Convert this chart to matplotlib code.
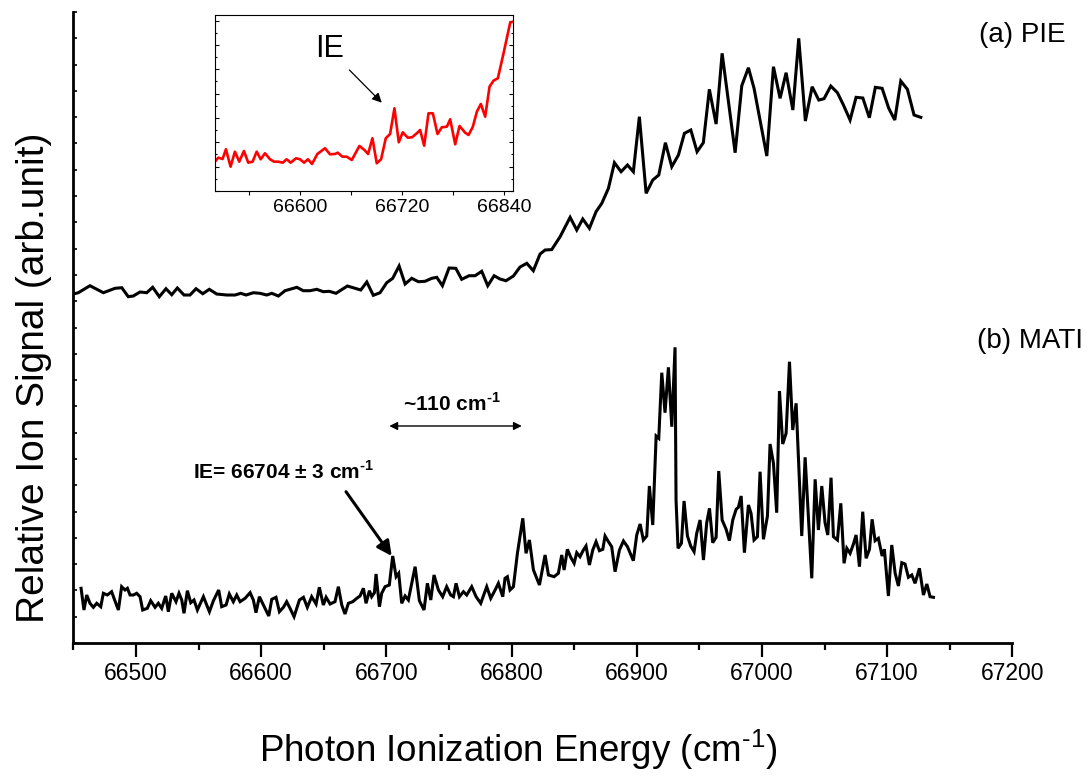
import numpy as np
import matplotlib
matplotlib.use("Agg")
import matplotlib.pyplot as plt
from matplotlib.ticker import MultipleLocator

plt.rcParams['font.family'] = ['Liberation Sans', 'DejaVu Sans']
plt.rcParams['mathtext.fontset'] = 'custom'
plt.rcParams['mathtext.rm'] = 'Liberation Sans'
plt.rcParams['mathtext.bf'] = 'Liberation Sans:bold'

# ---------------- data (arbitrary signal units) ----------------
pie_energy = [
    66450.0, 66454.0, 66463.3, 66474.0, 66483.3, 66488.7, 66493.9, 66497.9, 66503.3, 66508.6,
    66513.4, 66518.7, 66524.0, 66528.6, 66533.1, 66538.4, 66543.2, 66548.0, 66553.4, 66558.6,
    66564.5, 66572.5, 66579.2, 66583.7, 66588.0, 66593.8, 66599.1, 66604.5, 66608.5, 66613.8,
    66619.1, 66628.5, 66633.7, 66639.1, 66644.4, 66649.7, 66654.5, 66659.8, 66668.9, 66679.6,
    66684.4, 66689.6, 66695.0, 66700.3, 66705.1, 66710.2, 66715.0, 66720.3, 66725.6, 66730.9,
    66736.3, 66740.3, 66744.8, 66750.1, 66755.5, 66760.2, 66766.1, 66770.9, 66776.2, 66781.0,
    66786.1, 66790.8, 66795.6, 66801.5, 66806.8, 66812.2, 66817.4, 66822.8, 66826.8, 66832.1,
    66838.8, 66846.8, 66852.1, 66856.9, 66862.2, 66867.5, 66872.1, 66877.4, 66882.2, 66887.5,
    66892.6, 66897.3, 66902.1, 66907.5, 66912.8, 66917.6, 66922.9, 66928.0, 66933.3, 66938.1,
    66943.2, 66948.2, 66953.2, 66958.0, 66963.4, 66968.2, 66978.6, 66983.9, 66989.2, 66993.7,
    67003.9, 67009.2, 67014.5, 67019.3, 67024.7, 67029.4, 67034.7, 67040.1, 67045.4, 67049.6,
    67055.0, 67060.3, 67065.1, 67070.4, 67075.2, 67080.6, 67085.8, 67090.6, 67096.0, 67101.3,
    67106.1, 67110.9, 67116.2, 67121.5, 67126.9]
pie_signal = [
    349, 350.3, 357.3, 350.3, 354.7, 355.3, 346.3, 347, 351, 350.3,
    355.7, 346.3, 354.3, 348.3, 355, 348, 348, 354.3, 349.3, 353.7,
    349, 348, 348, 349.7, 348, 350.3, 349.7, 348, 349.7, 347,
    352.3, 355.7, 352.3, 352.3, 353.7, 351.3, 351.7, 349.7, 357, 353,
    361, 347.7, 350.3, 360.3, 364.7, 377, 359, 364.7, 361.3, 361.7,
    364.7, 365.7, 357.3, 375, 374.7, 363.7, 367.3, 367.3, 371.7, 357.3,
    367.3, 364, 362.3, 367, 376, 379.7, 372.3, 389, 393, 393.4,
    406.3, 425.7, 413, 424, 414.7, 431.3, 439.7, 454.7, 480.3, 471.3,
    478, 471.3, 526.3, 449.7, 463, 468, 500.3, 476.3, 488, 509.7,
    513, 491.3, 500.3, 553.7, 519, 589.7, 490.3, 557.3, 575.3, 554.7,
    487, 576.3, 544.7, 570.3, 533, 604.7, 522, 556.3, 543, 544.3,
    557, 550.3, 538, 523, 545.7, 545, 525.3, 555.7, 554.7, 534.7,
    523, 562, 553.7, 528, 525.7]

mati_energy = [
    66456.2, 66458.5, 66460.7, 66463.3, 66466.0, 66468.7, 66471.9, 66474.0, 66477.2, 66480.6,
    66482.8, 66486.0, 66488.6, 66491.3, 66493.2, 66495.3, 66498.0, 66500.6, 66503.3, 66505.4,
    66509.1, 66511.8, 66515.3, 66517.9, 66520.6, 66523.8, 66525.9, 66528.6, 66532.0, 66534.4,
    66536.6, 66538.4, 66541.1, 66543.8, 66546.4, 66549.1, 66553.9, 66558.7, 66561.9, 66566.1,
    66568.5, 66572.0, 66574.6, 66577.8, 66580.5, 66583.2, 66587.2, 66591.2, 66593.8, 66595.9,
    66598.6, 66601.8, 66606.1, 66608.5, 66611.9, 66614.6, 66617.8, 66620.4, 66623.1, 66626.3,
    66630.6, 66633.8, 66636.9, 66640.4, 66643.9, 66646.5, 66649.7, 66651.9, 66655.1, 66659.0,
    66661.7, 66664.4, 66667.0, 66669.7, 66673.2, 66676.4, 66679.0, 66681.7, 66683.8, 66686.5,
    66688.3, 66690.5, 66691.8, 66694.5, 66696.3, 66699.0, 66702.4, 66705.1, 66707.8, 66709.9,
    66712.3, 66715.0, 66717.6, 66723.0, 66726.4, 66730.1, 66732.8, 66735.5, 66738.1, 66741.6,
    66745.0, 66748.2, 66751.4, 66753.6, 66755.7, 66758.4, 66761.6, 66764.2, 66768.2, 66771.7,
    66775.4, 66780.2, 66783.4, 66786.9, 66789.5, 66793.0, 66794.8, 66796.7, 66798.8, 66801.5,
    66804.7, 66809.0, 66811.6, 66814.3, 66817.5, 66822.3, 66826.8, 66829.5, 66834.0, 66837.4,
    66840.1, 66842.0, 66844.6, 66847.3, 66850.0, 66852.1, 66854.7, 66857.4, 66859.5, 66862.2,
    66864.9, 66867.5, 66870.2, 66872.9, 66874.7, 66877.4, 66880.0, 66882.7, 66886.2, 66889.4,
    66892.6, 66897.3, 66900.0, 66902.7, 66905.3, 66908.0, 66910.1, 66912.8, 66915.5, 66917.6,
    66920.0, 66922.6, 66925.3, 66928.0, 66930.6, 66931.4, 66933.0, 66935.7, 66937.8, 66940.5,
    66943.1, 66945.8, 66947.9, 66950.6, 66953.3, 66955.9, 66958.1, 66960.7, 66963.4, 66965.5,
    66968.2, 66971.4, 66974.0, 66976.7, 66979.4, 66981.2, 66983.4, 66986.0, 66989.2, 66991.3,
    66993.7, 66996.4, 66998.5, 67001.2, 67004.4, 67006.5, 67009.2, 67011.8, 67014.0, 67016.6,
    67019.3, 67022.0, 67024.6, 67027.3, 67031.8, 67034.5, 67039.8, 67042.5, 67045.1, 67047.8,
    67050.4, 67052.6, 67055.2, 67057.1, 67060.3, 67063.0, 67065.6, 67067.8, 67070.4, 67073.1,
    67075.2, 67077.9, 67080.5, 67083.2, 67085.9, 67088.0, 67090.4, 67093.0, 67096.0, 67097.8,
    67101.0, 67103.7, 67106.4, 67109.0, 67111.7, 67114.3, 67117.0, 67119.7, 67122.3, 67125.8,
    67129.0, 67131.7, 67134.3, 67137.0]
mati_signal = [
    54.7, 33, 48, 39.7, 35.7, 39.7, 36.3, 49.7, 48, 51.3,
    43.7, 33, 56.3, 53, 54.7, 48, 48, 49.7, 46.3, 33,
    34.7, 42.3, 35.7, 39.7, 34.7, 47, 31.3, 49.7, 41.3, 49.7,
    43, 29.7, 52.3, 40.3, 43, 33, 46.3, 31.3, 42.3, 53,
    36.3, 38, 49, 41.3, 48, 41.3, 44.7, 50.3, 43, 30.3,
    46.3, 38, 27, 43.7, 45.7, 31.3, 35.7, 41.3, 34.7, 26.3,
    43, 45.7, 35.7, 46.3, 39, 55.7, 38, 45.7, 39, 41.3,
    56.3, 38, 29, 39.7, 41.3, 44.7, 47, 54.7, 39.7, 52.3,
    46.3, 50.3, 69, 36.3, 49.7, 56.3, 58, 87, 66.3, 69.7,
    39.7, 47, 43, 76.3, 42.3, 33, 59.7, 43, 68, 53,
    46.3, 56.3, 48, 46.3, 59.7, 46.3, 51.3, 48, 56.3, 46.3,
    39.7, 56.3, 44.7, 53, 59.7, 46.3, 64.7, 66.3, 53, 56.3,
    89.7, 124.7, 89.7, 103, 73, 58, 88, 68, 66.3, 69.7,
    88, 73, 93.7, 85.7, 79.7, 90.3, 86.3, 93, 97, 78,
    93, 101.3, 92.3, 93.7, 107, 101.3, 96.3, 71.3, 93, 102,
    96.3, 82.3, 108, 119, 103, 107, 157, 118, 207, 204.7,
    270.3, 230.3, 275.7, 216.3, 295.7, 143, 94.7, 99.7, 142, 107,
    97, 91.3, 109.7, 123, 83, 120.3, 134.7, 100.3, 105.7, 172,
    123, 113.7, 102.3, 123, 133.7, 135.7, 147, 90.3, 138, 129.7,
    103, 106.3, 171.3, 103.7, 127, 199, 179.7, 130.3, 252, 199,
    209.7, 281.3, 213, 239.7, 107, 185.7, 64.7, 163.7, 113, 157,
    120.3, 108, 165.3, 106.3, 103, 139.7, 79.7, 94.7, 89.7, 99,
    108, 76.3, 131.3, 84.7, 93.7, 123.7, 102.3, 104.7, 87, 93.7,
    47, 98, 69.7, 57, 80.3, 79, 65.7, 68, 59.7, 74.7,
    48, 59, 46.3, 45.7]

inset_energy = [
    66499.9, 66503.8, 66508.9, 66512.8, 66518.3, 66523.4, 66528.5, 66534.0, 66539.1, 66544.2,
    66549.0, 66553.7, 66558.8, 66564.7, 66569.4, 66574.5, 66579.6, 66584.3, 66589.0, 66595.3,
    66600.0, 66604.7, 66609.4, 66614.1, 66620.4, 66629.4, 66635.3, 66641.2, 66644.4, 66649.9,
    66655.0, 66660.9, 66669.9, 66675.8, 66680.1, 66685.2, 66690.3, 66695.4, 66700.9, 66706.0,
    66711.1, 66716.2, 66720.9, 66726.8, 66731.9, 66738.2, 66741.3, 66746.1, 66751.2, 66756.3,
    66761.8, 66766.9, 66772.8, 66776.7, 66782.6, 66787.7, 66794.3, 66798.3, 66803.4, 66808.1,
    66812.8, 66817.9, 66823.0, 66827.7, 66832.8, 66839.5, 66847.3, 66850.5]
inset_signal = [
    29.3, 33.3, 32, 41.7, 24.3, 39.3, 29.3, 40, 28.3, 29.3,
    39.3, 31.7, 37.7, 31.7, 29.3, 29.3, 28.3, 31.7, 28.3, 32.7,
    31.7, 28.3, 31.7, 27, 37, 42.7, 36.7, 37, 38.3, 34.3,
    34.3, 31, 45, 41, 37, 52.7, 27.7, 31.7, 52.7, 57,
    82.7, 48.7, 58.7, 53.3, 53.7, 58.3, 61, 45.3, 77.7, 77.7,
    57, 63.7, 64.3, 71.7, 46.7, 65, 58.3, 56, 64.3, 79.3,
    87, 74.3, 104.3, 110.3, 112.7, 137.7, 168.3, 169.3]

x_ticks = [66500, 66600, 66700, 66800, 66900, 67000, 67100, 67200]
inset_ticks = [66600, 66720, 66840]

SUP = r'$^{\mathdefault{‐1}}$'   # superscript "-1" drawn with a short hyphen

# ---------------- figure ----------------
fig = plt.figure(figsize=(10.91, 7.76), dpi=100)
ax = fig.add_axes([0.0672, 0.1714, 0.8607, 0.8131])

ax.plot(pie_energy, pie_signal, color='black', lw=2.2, solid_joinstyle='miter')
ax.plot(mati_energy, mati_signal, color='black', lw=2.2, solid_joinstyle='miter')

ax.set_xlim(66450, 67200)
ax.set_ylim(0, 631)
ax.spines['top'].set_visible(False)
ax.spines['right'].set_visible(False)
ax.spines['left'].set_linewidth(2.0)
ax.spines['bottom'].set_linewidth(2.0)
ax.set_xticks(x_ticks)
ax.set_xticklabels([str(t) for t in x_ticks])
ax.xaxis.set_minor_locator(MultipleLocator(50))
ax.tick_params(axis='x', which='major', direction='out', length=10, width=1.6,
               labelsize=16.5, pad=4)
ax.tick_params(axis='x', which='minor', direction='out', length=5, width=1.6)
ax.yaxis.set_major_locator(MultipleLocator(631 / 24))
ax.tick_params(axis='y', which='major', direction='in', length=3, width=1.2,
               labelleft=False)

fig.text(0.4748, 0.034, 'Photon Ionization Energy (cm' + SUP + ')', fontsize=26.5,
         ha='center', va='center')
fig.text(0.031, 0.5137, 'Relative Ion Signal (arb.unit)', fontsize=28,
         rotation=90, ha='center', va='center')

ax.text(67207.8, 608, '(a) PIE', fontsize=20, ha='center', va='center')
ax.text(67214.2, 302, '(b) MATI', fontsize=20, ha='center', va='center')

ax.text(66545.6, 164, 'IE= 66704 ± 3 cm' + SUP, fontsize=15,
        fontweight='bold', ha='left', va='baseline')
ax.annotate('', xy=(66704.3, 87), xytext=(66667.8, 151.3),
            arrowprops=dict(arrowstyle='-|>', lw=2.2, color='black',
                            mutation_scale=22, shrinkA=0, shrinkB=0))
ax.text(66713.3, 232.3, '~110 cm' + SUP, fontsize=15,
        fontweight='bold', ha='left', va='baseline')
ax.annotate('', xy=(66808.2, 217), xytext=(66702.4, 217),
            arrowprops=dict(arrowstyle='<|-|>', lw=1.0, color='black',
                            mutation_scale=12, shrinkA=0, shrinkB=0))

# ---------------- inset ----------------
ins = fig.add_axes([0.1971, 0.7539, 0.2734, 0.2268])
ins.plot(inset_energy, inset_signal, color='red', lw=1.9)
ins.set_xlim(66500, 66851)
ins.set_ylim(0, 176)
ins.set_xticks(inset_ticks)
ins.set_xticklabels([str(t) for t in inset_ticks])
ins.xaxis.set_minor_locator(MultipleLocator(60))
ins.yaxis.set_major_locator(MultipleLocator(24.33))
ins.yaxis.set_minor_locator(MultipleLocator(24.33 / 2))
for s in ins.spines.values():
    s.set_linewidth(0.8)
ins.tick_params(axis='x', which='both', direction='out', length=3, width=0.8,
                labelsize=14, pad=3)
ins.tick_params(axis='y', which='major', direction='in', length=3, width=0.8,
                left=True, right=True, labelleft=False)
ins.tick_params(axis='y', which='minor', direction='in', length=1.5, width=0.8,
                left=True, right=True)
ins.text(66635.3, 141.8, 'IE', fontsize=22, ha='center', va='center')
ins.annotate('', xy=(66696.2, 88.3), xytext=(66658.1, 121),
             arrowprops=dict(arrowstyle='-|>', lw=0.9, color='black',
                             mutation_scale=14, shrinkA=0, shrinkB=0))

fig.savefig('out.png', dpi=100)
